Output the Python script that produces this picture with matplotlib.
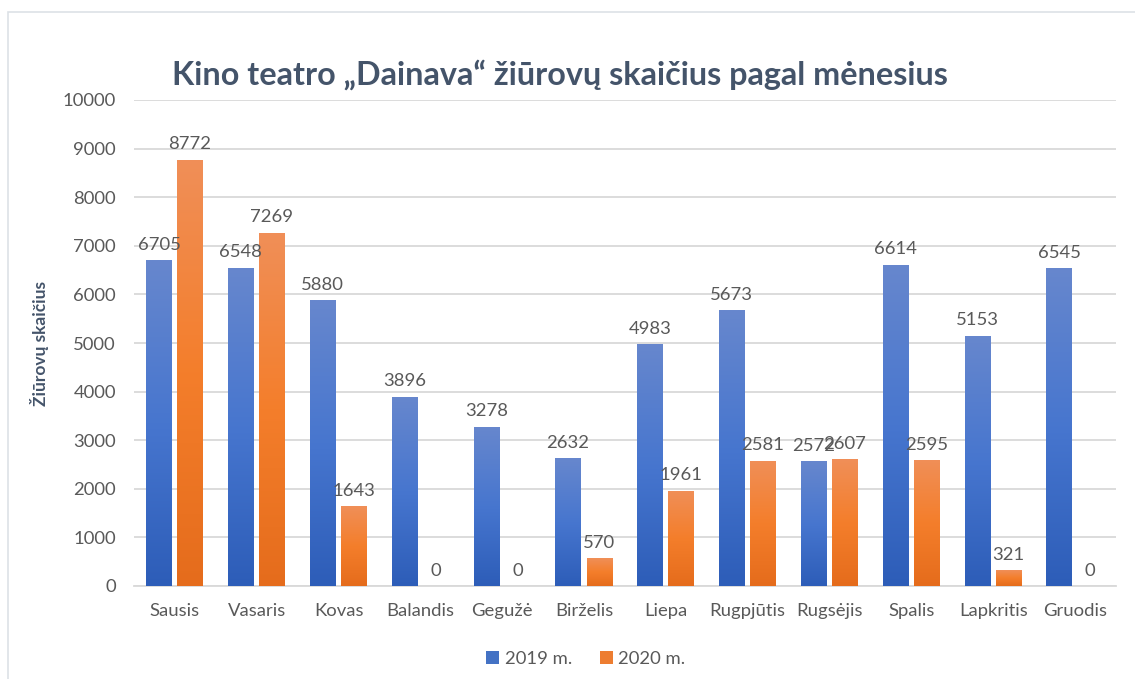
import numpy as np
import matplotlib.pyplot as plt
from matplotlib.patches import Rectangle
from matplotlib.colors import LinearSegmentedColormap

plt.rcParams['font.family'] = ['Lato', 'DejaVu Sans']

months = ["Sausis", "Vasaris", "Kovas", "Balandis", "Gegužė", "Birželis",
          "Liepa", "Rugpjūtis", "Rugsėjis", "Spalis", "Lapkritis", "Gruodis"]
y2019 = [6705, 6548, 5880, 3896, 3278, 2632, 4983, 5673, 2572, 6614, 5153, 6545]
y2020 = [8772, 7269, 1643, 0, 0, 570, 1961, 2581, 2607, 2595, 321, 0]
series_names = ["2019 m.", "2020 m."]

BLUE = "#4472C4"
ORANGE = "#ED7D31"
TXT = "#595959"
blue_cmap = LinearSegmentedColormap.from_list("b", ["#2D5DB8", "#4776CF", "#6787CD"])
orange_cmap = LinearSegmentedColormap.from_list("o", ["#E56C1C", "#F47E2B", "#F08F58"])

fig = plt.figure(figsize=(11.35, 6.79), dpi=100)
fig.patches.append(Rectangle((8 / 1135, -0.1), 1.2, 1 - 12 / 679 + 0.1,
                             transform=fig.transFigure, fill=False,
                             edgecolor="#DDE1E6", linewidth=1.2))
ax = fig.add_axes([134 / 1135, 1 - 586 / 679, 982 / 1135, 486 / 679])

x = np.arange(len(months))
w = 0.31


def grad_bars(xs, vals, cmap, color, label):
    bars = ax.bar(xs, vals, w, color=color, label=label, zorder=2)
    grad = np.linspace(0, 1, 256).reshape(-1, 1)
    for b in bars:
        h = b.get_height()
        if h <= 0:
            continue
        x0 = b.get_x()
        im = ax.imshow(grad, cmap=cmap, origin="lower", aspect="auto",
                       extent=[x0, x0 + b.get_width(), 0, h], zorder=3)
        im.set_clip_path(b)
    for xi, v in zip(xs, vals):
        ax.text(xi, v + 150, str(v), ha="center", va="bottom",
                fontsize=13.3, color=TXT, zorder=4)
    return bars


grad_bars(x - 0.195, y2019, blue_cmap, BLUE, series_names[0])
grad_bars(x + 0.185, y2020, orange_cmap, ORANGE, series_names[1])

ax.set_xlim(-0.5, len(months) - 0.5)
ax.set_ylim(0, 10000)
ax.set_yticks(range(0, 10001, 1000))
ax.set_xticks(x)
ax.set_xticklabels(months)
ax.grid(axis="y", color="#D9D9D9", linewidth=1.3, zorder=0)
ax.set_axisbelow(True)
for s in ["top", "right", "left"]:
    ax.spines[s].set_visible(False)
ax.spines["bottom"].set_color("#D9D9D9")
ax.spines["bottom"].set_linewidth(1.3)
ax.tick_params(axis="both", length=0, labelsize=13.3, labelcolor=TXT)
ax.tick_params(axis="x", pad=12)
ax.tick_params(axis="y", pad=13)

ax.set_ylabel("Žiūrovų skaičius", fontsize=12.5, fontweight="bold",
              color="#44546A", labelpad=10)
fig.text(560 / 1135, 1 - 75 / 679, "Kino teatro „Dainava“ žiūrovų skaičius pagal mėnesius",
         ha="center", va="center", fontsize=23.3, fontweight="bold", color="#44546A")

ax.legend(loc="upper center", bbox_to_anchor=(0.46, -0.1), ncol=2, frameon=False,
          fontsize=13.3, labelcolor=TXT, handlelength=0.7, handleheight=0.7,
          handletextpad=0.3, columnspacing=1.5)

fig.savefig("out.png", dpi=100)
